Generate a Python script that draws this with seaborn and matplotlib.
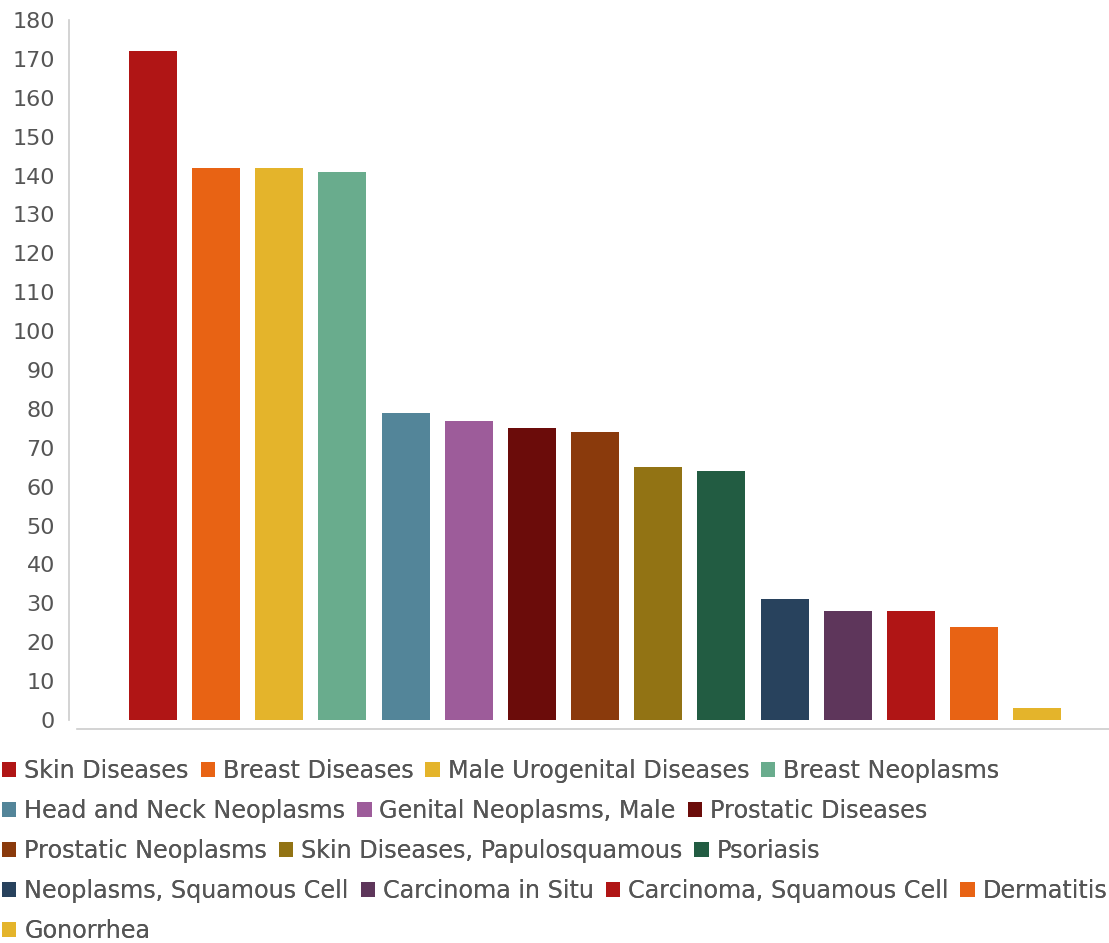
import matplotlib
matplotlib.use("Agg")
import matplotlib.pyplot as plt
import seaborn as sns
import pandas as pd

# Disease categories and their counts
diseases = [
    "Skin Diseases", "Breast Diseases", "Male Urogenital Diseases", "Breast Neoplasms",
    "Head and Neck Neoplasms", "Genital Neoplasms, Male", "Prostatic Diseases",
    "Prostatic Neoplasms", "Skin Diseases, Papulosquamous", "Psoriasis",
    "Neoplasms, Squamous Cell", "Carcinoma in Situ", "Carcinoma, Squamous Cell",
    "Dermatitis", "Gonorrhea",
]
counts = [172, 142, 142, 141, 79, 77, 75, 74, 65, 64, 31, 28, 28, 24, 3]
colors = [
    "#B01515", "#E86314", "#E4B42B", "#69AC8D", "#538599", "#9D5C9A", "#6B0C0A",
    "#8A3A0C", "#927314", "#225C42", "#28425D", "#5E365B", "#B01515", "#E86314",
    "#E4B42B",
]
y_ticks = list(range(0, 181, 10))

# Rows of the wrapped legend (number of entries per row)
legend_rows = [4, 3, 3, 4, 1]

df = pd.DataFrame({"group": [""] * len(diseases), "disease": diseases, "count": counts})

sns.set_style("white")
text_color = "#555555"
axis_color = "#CCCCCC"
plt.rcParams["font.family"] = ["DejaVu Sans"]

W, H = 1109, 943
PX = 72 / 100  # points per pixel at 100 dpi
fig = plt.figure(figsize=(W / 100, H / 100), dpi=100)
ax = fig.add_axes([77 / W, 1 - 720 / H, 1 - 77 / W, (720 - 20) / H])

sns.barplot(
    data=df, x="group", y="count", hue="disease", hue_order=diseases,
    palette=colors, saturation=1, width=0.8, gap=0.24, dodge=True,
    linewidth=0, ax=ax,
)

ax.set_xlim(-0.4375, 0.434)
ax.set_ylim(0, 180)
ax.set_yticks(y_ticks)
ax.set_xlabel("")
ax.set_ylabel("")
ax.set_xticks([0])
ax.set_xticklabels([""])

for side in ("top", "right"):
    ax.spines[side].set_visible(False)
ax.spines["left"].set_position(("outward", 8 * PX))
ax.spines["bottom"].set_position(("outward", 9 * PX))
for side in ("left", "bottom"):
    ax.spines[side].set_color(axis_color)
    ax.spines[side].set_linewidth(1.2)

ax.tick_params(axis="y", direction="out", length=4 * PX, width=1, color=axis_color,
               labelsize=16, labelcolor=text_color, pad=10 * PX)
ax.tick_params(axis="x", direction="out", length=4 * PX, width=1, color=axis_color)

handles, labels = ax.get_legend_handles_labels()
ax.get_legend().remove()

# Flowing legend: one entry after another along each row
renderer = fig.canvas.get_renderer()
row_y = [771, 811, 851, 891, 931]
start = 0
for n, yc in zip(legend_rows, row_y):
    x = 2
    for h, lab in zip(handles[start:start + n], labels[start:start + n]):
        leg = fig.legend(
            [h], [lab], loc="center left", bbox_to_anchor=(x / W, 1 - yc / H),
            frameon=False, fontsize=17.2,
            handlelength=0.6, handleheight=0.6, handletextpad=0.33,
            borderpad=0, borderaxespad=0, labelcolor=text_color,
        )
        fig.add_artist(leg)
        ext = leg.get_window_extent(renderer)
        x = ext.x1 + 12
    start += n

fig.savefig("out.png", dpi=100)
